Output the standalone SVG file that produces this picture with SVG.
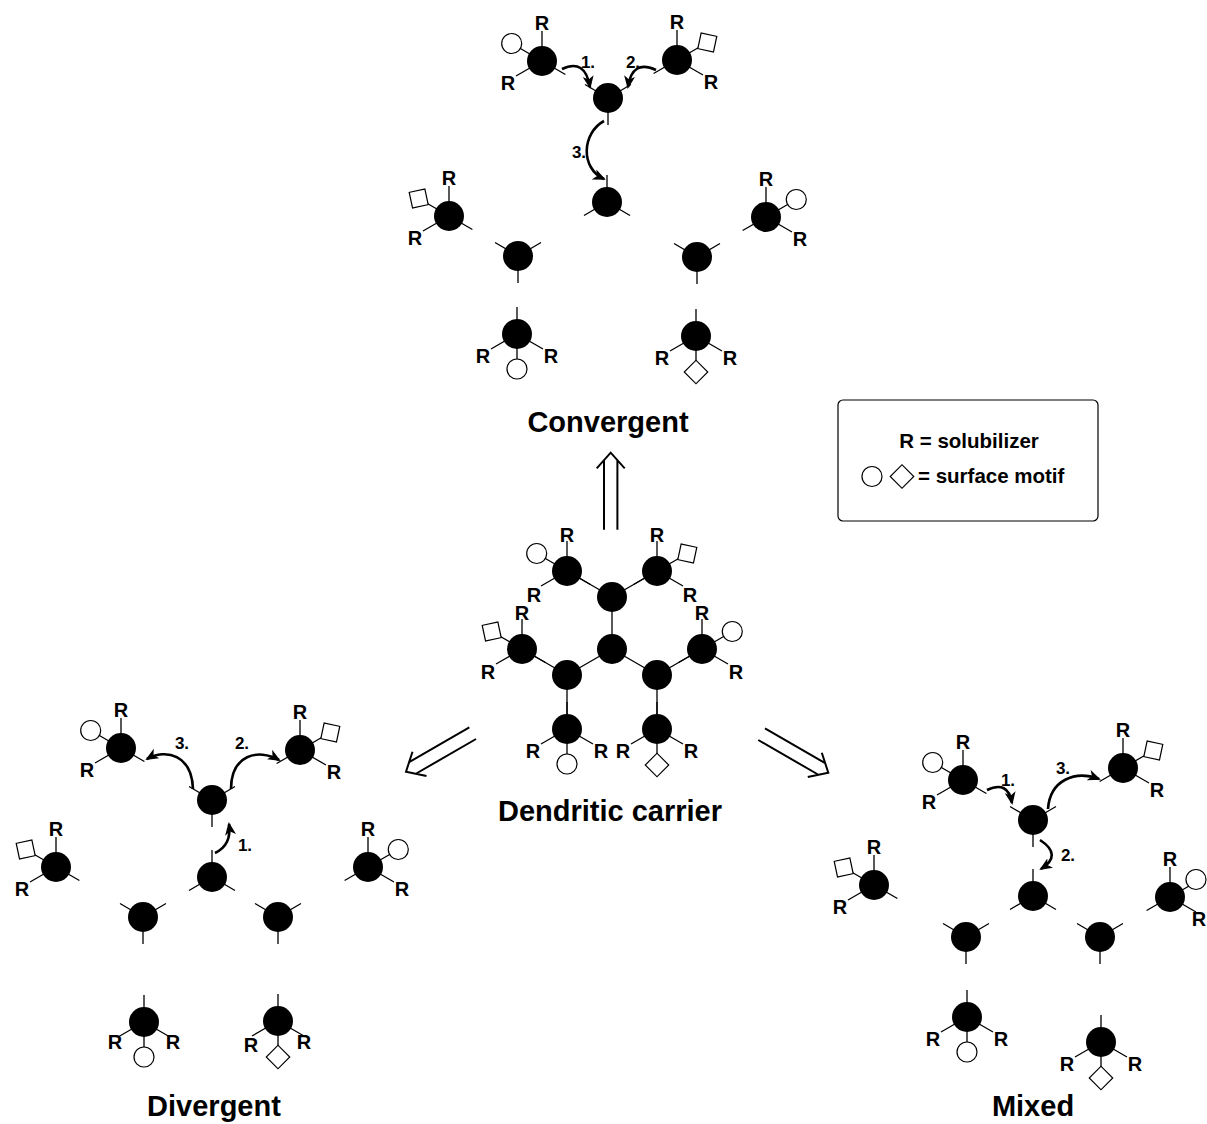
<svg xmlns="http://www.w3.org/2000/svg" xmlns:xlink="http://www.w3.org/1999/xlink" width="1207" height="1124" viewBox="0 0 1207 1124">
<style>
.b{stroke:#000;stroke-width:1.3;fill:none}
.ball{fill:#000}
.mo{fill:#fff;stroke:#000;stroke-width:1.2}
.r{font-family:"Liberation Sans",Arial,sans-serif;font-weight:bold;font-size:20px;text-anchor:middle;fill:#000}
.s{font-family:"Liberation Sans",Arial,sans-serif;font-weight:bold;font-size:17px;text-anchor:middle;fill:#000}
.t{font-family:"Liberation Sans",Arial,sans-serif;font-weight:bold;font-size:29px;text-anchor:middle;fill:#000}
.lg{font-family:"Liberation Sans",Arial,sans-serif;font-weight:bold;font-size:20.5px;fill:#000}
.arr{stroke:#000;stroke-width:2.6;fill:none;marker-end:url(#ah)}
.dbl{stroke:#000;stroke-width:2;fill:none}
.bond{stroke:#000;stroke-width:1.3;fill:none}
</style>
<defs>
<marker id="ah" markerUnits="userSpaceOnUse" markerWidth="13" markerHeight="11" refX="11" refY="5.5" orient="auto" viewBox="0 0 13 11"><path d="M0,0 L13,5.5 L0,11 L3.5,5.5 Z" fill="#000"/></marker>
<g id="hY"><path class="b" d="M0,0L-23,-13.5M0,0L23,-13.5M0,0L0,27"/><circle class="ball" r="15"/></g>
<g id="hT"><path class="b" d="M0,0L0,-27M0,0L-23,13.5M0,0L23,13.5"/><circle class="ball" r="15"/></g>
<g id="tL"><path class="b" d="M0,0L0,-30M0,0L-26,15M0,0L23.4,13.5M0,0L-30.3,-17.5"/><circle class="ball" r="15"/></g>
<g id="tR"><path class="b" d="M0,0L0,-30M0,0L26,15M0,0L-23.4,13.5M0,0L30.3,-17.5"/><circle class="ball" r="15"/></g>
<g id="tB"><path class="b" d="M0,0L0,-27M0,0L-26,15M0,0L26,15M0,0L0,26"/><circle class="ball" r="15"/></g>
<circle id="mc" class="mo" r="10"/>
<rect id="msL" class="mo" x="-8" y="-8" width="16" height="16" transform="rotate(-12)"/>
<rect id="msR" class="mo" x="-8" y="-8" width="16" height="16" transform="rotate(12)"/>
<rect id="md" class="mo" x="-8.3" y="-8.3" width="16.6" height="16.6" transform="rotate(45)"/>
<g id="dbl"><path class="dbl" d="M-6.7,7.5L-6.7,77M6.7,7.5L6.7,77M-14,15.6L0,0L14,15.6"/></g>
</defs>

<!-- ===== Convergent ===== -->
<g id="conv-A"><use xlink:href="#tL" x="542" y="61"/><use xlink:href="#mc" x="511.7" y="43.5"/><text class="r" x="542" y="30">R</text><text class="r" x="508" y="90">R</text></g>
<g id="conv-B"><use xlink:href="#hY" x="608" y="98"/></g>
<g id="conv-C"><use xlink:href="#tR" x="677" y="60"/><use xlink:href="#msR" x="707.3" y="42.5"/><text class="r" x="677" y="29">R</text><text class="r" x="711" y="89">R</text></g>
<g id="conv-D"><use xlink:href="#hT" x="607" y="202"/></g>
<g id="conv-E"><use xlink:href="#tL" x="449" y="216"/><use xlink:href="#msL" x="418.7" y="198.5"/><text class="r" x="449" y="185">R</text><text class="r" x="415" y="245">R</text></g>
<g id="conv-F"><use xlink:href="#hY" x="518" y="256"/></g>
<g id="conv-G"><use xlink:href="#tR" x="766" y="217"/><use xlink:href="#mc" x="796.3" y="199.5"/><text class="r" x="766" y="186">R</text><text class="r" x="800" y="246">R</text></g>
<g id="conv-H"><use xlink:href="#hY" x="697" y="257"/></g>
<g id="conv-I"><use xlink:href="#tB" x="517" y="334"/><use xlink:href="#mc" x="517" y="369"/><text class="r" x="483" y="363">R</text><text class="r" x="551" y="363">R</text></g>
<g id="conv-J"><use xlink:href="#tB" x="696" y="336"/><use xlink:href="#md" x="696" y="372"/><text class="r" x="662" y="365">R</text><text class="r" x="730" y="365">R</text></g>
<text class="t" x="608" y="432">Convergent</text>

<!-- ===== Legend ===== -->
<g id="legend">
<rect x="838" y="400" width="260" height="121" rx="5" fill="#fff" stroke="#000" stroke-width="1.2"/>
<text class="lg" x="969" y="448" text-anchor="middle">R = solubilizer</text>
<use xlink:href="#mc" x="872" y="476.5"/>
<use xlink:href="#md" x="902" y="476.5"/>
<text class="lg" x="918" y="483">= surface motif</text>
</g>

<!-- ===== Dendritic carrier ===== -->
<g id="carrier-TL"><use xlink:href="#tL" x="567" y="571"/><use xlink:href="#mc" x="536.7" y="553.5"/><text class="r" x="567" y="542">R</text><text class="r" x="534" y="602">R</text></g>
<g id="carrier-TR"><use xlink:href="#tR" x="657" y="571"/><use xlink:href="#msR" x="687.3" y="553.5"/><text class="r" x="657" y="542">R</text><text class="r" x="690" y="602">R</text></g>
<g id="carrier-L"><use xlink:href="#tL" x="522" y="649"/><use xlink:href="#msL" x="491.7" y="631.5"/><text class="r" x="522" y="620">R</text><text class="r" x="488" y="679">R</text></g>
<g id="carrier-R"><use xlink:href="#tR" x="702" y="649"/><use xlink:href="#mc" x="732.3" y="631.5"/><text class="r" x="702" y="620">R</text><text class="r" x="736" y="679">R</text></g>
<g id="carrier-BL"><use xlink:href="#tB" x="567" y="729"/><use xlink:href="#mc" x="567" y="764"/><text class="r" x="533" y="758">R</text><text class="r" x="601" y="758">R</text></g>
<g id="carrier-BR"><use xlink:href="#tB" x="657" y="729"/><use xlink:href="#md" x="657" y="765"/><text class="r" x="623" y="758">R</text><text class="r" x="691" y="758">R</text></g>
<g id="connectors">
<path class="bond" d="M612,597L567,571M612,597L657,571M612,597L612,649M612,649L567,675M612,649L657,675M567,675L522,649M657,675L702,649M567,675L567,729M657,675L657,729"/>
<path class="arr" d="M562,69 Q585,58 590,87"/>
<path class="arr" d="M656,70 Q632,59 628,87"/>
<path class="arr" d="M604,121 C582,133 580,168 604,179"/>
<path class="arr" d="M215,853 Q232,845 229,824"/>
<path class="arr" d="M193,789 C192,755 166,748 147,759"/>
<path class="arr" d="M231,789 C231,755 258,748 279,760"/>
<path class="arr" d="M987,790 Q1008,780 1012,803"/>
<path class="arr" d="M1048,809 C1050,780 1075,770 1099,779"/>
<path class="arr" d="M1040,840 Q1063,855 1041,869"/>
<use xlink:href="#dbl" transform="translate(610.7,452.7)"/>
<use xlink:href="#dbl" transform="translate(406,771.7) rotate(-120)"/>
<use xlink:href="#dbl" transform="translate(828.3,772.7) rotate(120)"/>
</g>
<g id="carrier-CT"><circle class="ball" cx="612" cy="597" r="15"/></g>
<g id="carrier-CC"><circle class="ball" cx="612" cy="649" r="15"/></g>
<g id="carrier-LL"><circle class="ball" cx="567" cy="675" r="15"/></g>
<g id="carrier-LR"><circle class="ball" cx="657" cy="675" r="15"/></g>
<text class="t" x="610" y="821">Dendritic carrier</text>

<!-- step labels -->
<text class="s" x="588" y="68">1.</text>
<text class="s" x="633" y="68">2.</text>
<text class="s" x="579" y="158">3.</text>
<text class="s" x="182" y="749">3.</text>
<text class="s" x="242" y="749">2.</text>
<text class="s" x="245" y="851">1.</text>
<text class="s" x="1008" y="786">1.</text>
<text class="s" x="1063" y="774">3.</text>
<text class="s" x="1068" y="861">2.</text>

<!-- ===== Divergent ===== -->
<g id="div-A"><use xlink:href="#tL" x="121" y="748"/><use xlink:href="#mc" x="90.7" y="730.5"/><text class="r" x="121" y="717">R</text><text class="r" x="87" y="777">R</text></g>
<g id="div-B"><use xlink:href="#tR" x="300" y="750"/><use xlink:href="#msR" x="330.3" y="732.5"/><text class="r" x="300" y="719">R</text><text class="r" x="334" y="779">R</text></g>
<g id="div-C"><use xlink:href="#hY" x="212" y="800"/></g>
<g id="div-D"><use xlink:href="#hT" x="212" y="877"/></g>
<g id="div-E"><use xlink:href="#tL" x="56" y="867"/><use xlink:href="#msL" x="25.7" y="849.5"/><text class="r" x="56" y="836">R</text><text class="r" x="22" y="896">R</text></g>
<g id="div-F"><use xlink:href="#tR" x="368" y="867"/><use xlink:href="#mc" x="398.3" y="849.5"/><text class="r" x="368" y="836">R</text><text class="r" x="402" y="896">R</text></g>
<g id="div-G"><use xlink:href="#hY" x="143" y="917"/></g>
<g id="div-H"><use xlink:href="#hY" x="278" y="917"/></g>
<g id="div-I"><use xlink:href="#tB" x="144" y="1022"/><use xlink:href="#mc" x="144" y="1057"/><text class="r" x="115" y="1049">R</text><text class="r" x="173" y="1049">R</text></g>
<g id="div-J"><use xlink:href="#tB" x="278" y="1021"/><use xlink:href="#md" x="278" y="1057"/><text class="r" x="251" y="1052">R</text><text class="r" x="304" y="1049">R</text></g>
<text class="t" x="214" y="1116">Divergent</text>

<!-- ===== Mixed ===== -->
<g id="mix-A"><use xlink:href="#tL" x="963" y="780"/><use xlink:href="#mc" x="932.7" y="762.5"/><text class="r" x="963" y="749">R</text><text class="r" x="929" y="809">R</text></g>
<g id="mix-B"><use xlink:href="#hY" x="1033" y="820"/></g>
<g id="mix-C"><use xlink:href="#tR" x="1123" y="768"/><use xlink:href="#msR" x="1153.3" y="750.5"/><text class="r" x="1123" y="737">R</text><text class="r" x="1157" y="797">R</text></g>
<g id="mix-D"><use xlink:href="#hT" x="1033" y="896"/></g>
<g id="mix-E"><use xlink:href="#tL" x="874" y="885"/><use xlink:href="#msL" x="843.7" y="867.5"/><text class="r" x="874" y="854">R</text><text class="r" x="840" y="914">R</text></g>
<g id="mix-F"><use xlink:href="#tR" x="1170" y="897"/><use xlink:href="#mc" x="1196" y="879.5"/><text class="r" x="1170" y="866">R</text><text class="r" x="1199" y="926">R</text></g>
<g id="mix-G"><use xlink:href="#hY" x="966" y="937"/></g>
<g id="mix-H"><use xlink:href="#hY" x="1100" y="937"/></g>
<g id="mix-I"><use xlink:href="#tB" x="967" y="1017"/><use xlink:href="#mc" x="967" y="1052"/><text class="r" x="933" y="1046">R</text><text class="r" x="1001" y="1046">R</text></g>
<g id="mix-J"><use xlink:href="#tB" x="1101" y="1042"/><use xlink:href="#md" x="1101" y="1078"/><text class="r" x="1067" y="1071">R</text><text class="r" x="1135" y="1071">R</text></g>
<text class="t" x="1033" y="1116">Mixed</text>
</svg>
